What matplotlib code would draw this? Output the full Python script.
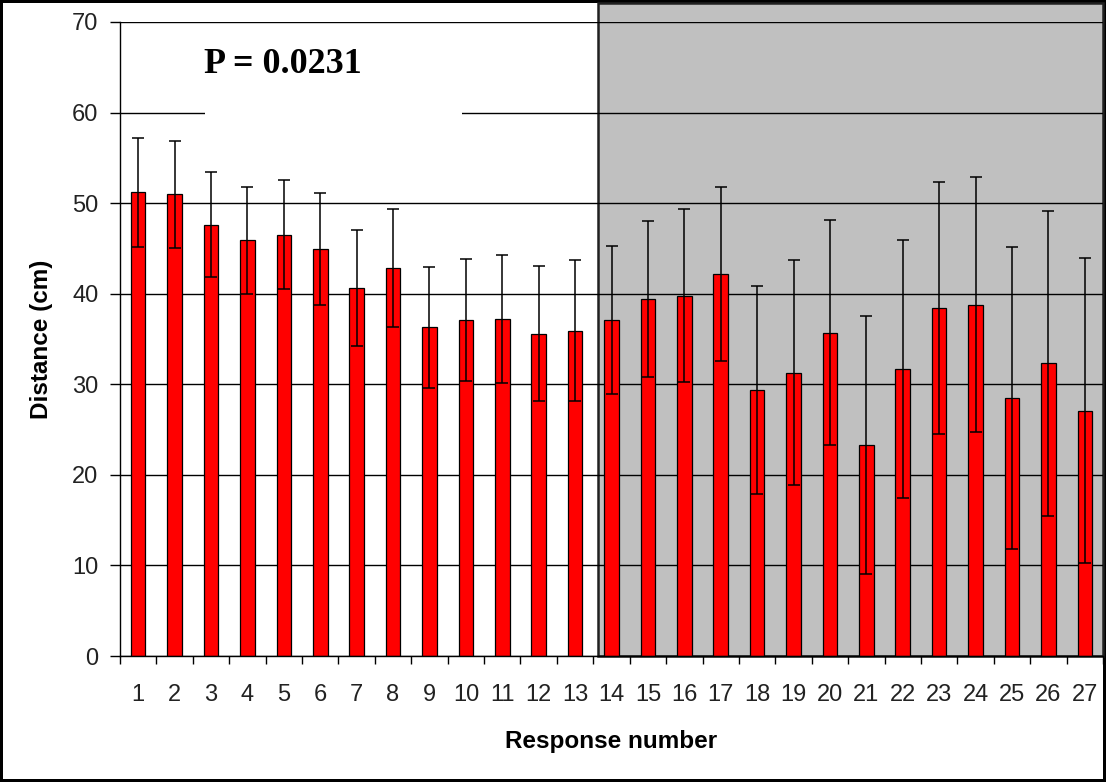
import matplotlib

matplotlib.use("Agg")
import matplotlib.pyplot as plt
import matplotlib.transforms as mtransforms
from matplotlib.patches import Rectangle
from matplotlib.ticker import FixedLocator

# values
responses = [str(i) for i in range(1, 28)]
mean_distance = [51.2, 51.0, 47.6, 45.9, 46.5, 44.9, 40.6, 42.8, 36.3, 37.1,
                 37.2, 35.6, 35.9, 37.1, 39.4, 39.8, 42.2, 29.4, 31.3, 35.7,
                 23.3, 31.7, 38.4, 38.8, 28.5, 32.3, 27.1]
distance_err = [6.0, 5.9, 5.8, 5.9, 6.0, 6.2, 6.4, 6.5, 6.7, 6.7,
                7.1, 7.5, 7.8, 8.2, 8.6, 9.6, 9.6, 11.5, 12.4, 12.4,
                14.2, 14.2, 13.9, 14.1, 16.7, 16.8, 16.8]
y_ticks = [0, 10, 20, 30, 40, 50, 60, 70]
p_label = "P = 0.0231"

tick_font = ["Liberation Sans Narrow", "Liberation Sans"]
label_font = ["Liberation Sans", "DejaVu Sans"]

fig = plt.figure(figsize=(11.06, 7.82), dpi=100)
fig.patch.set_edgecolor("black")
fig.patch.set_linewidth(3)
ax = fig.add_axes([0.1085, 0.1611, 0.8888, 0.8108])

x = list(range(len(responses)))
ax.set_xlim(-0.5, len(responses) - 0.5)
ax.set_ylim(0, 70)

# shaded block over the second half, reaching above the plot area
trans = mtransforms.blended_transform_factory(ax.transData, ax.transAxes)
shade = Rectangle((12.63, 0), len(responses) - 0.5 - 12.63, 1.03, transform=trans,
                  facecolor="#c0c0c0", edgecolor="#202020", linewidth=1.8,
                  clip_on=False, zorder=0.2)
ax.add_patch(shade)

ax.set_axisbelow(True)
ax.yaxis.grid(True, color="black", linewidth=1.0)

ax.bar(x, mean_distance, width=0.40, color="#ff0000", edgecolor="black",
       linewidth=0.9, zorder=2)
ax.errorbar(x, mean_distance, yerr=distance_err, fmt="none", ecolor="black",
            elinewidth=1.1, capsize=4.2, capthick=1.1, zorder=3)

# white text box that hides part of the 60 gridline
ax.add_patch(Rectangle((1.83, 58.6), 8.89 - 1.83, 69.2 - 58.6, facecolor="white",
                       edgecolor="none", zorder=4))
ax.text(1.81, 64.4, p_label, ha="left", va="baseline", fontsize=26,
        fontweight="bold", family=["Liberation Serif", "DejaVu Serif"], zorder=5)

ax.spines["top"].set_visible(False)
ax.spines["right"].set_visible(False)
for side in ("left", "bottom"):
    ax.spines[side].set_linewidth(1.0)

ax.set_yticks(y_ticks)
ax.tick_params(axis="y", direction="out", length=7, width=1.0, pad=8.6,
               labelsize=17, labelcolor="#222222")
for lab in ax.get_yticklabels():
    lab.set_family(tick_font)

ax.set_xticks(x)
ax.set_xticklabels(responses)
ax.xaxis.set_minor_locator(FixedLocator([i - 0.5 for i in range(len(responses) + 1)]))
ax.tick_params(axis="x", which="major", length=0, pad=20.5, labelsize=17,
               labelcolor="#222222")
ax.tick_params(axis="x", which="minor", direction="out", length=6, width=1.0)
for lab in ax.get_xticklabels():
    lab.set_family(tick_font)

ax.set_ylabel("Distance (cm)", fontsize=17.5, fontweight="bold", family=label_font,
              labelpad=14)
ax.set_xlabel("Response number", fontsize=17.5, fontweight="bold", family=label_font,
              labelpad=17)

fig.savefig("out.png", dpi=100)
